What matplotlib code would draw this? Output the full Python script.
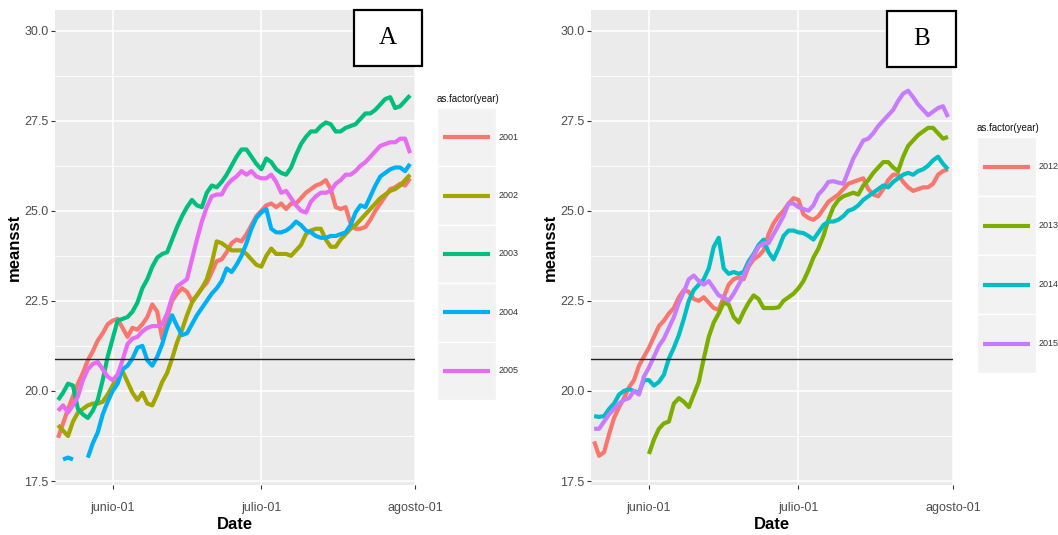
import numpy as np
import pandas as pd
import matplotlib
matplotlib.use("Agg")
import matplotlib.pyplot as plt
from matplotlib.lines import Line2D
from matplotlib.patches import Rectangle

plt.rcParams['font.family'] = ['Liberation Sans', 'DejaVu Sans']

# ---------------- data ----------------
dates = pd.date_range('2000-05-21', '2000-07-31', freq='D')   # 72 days
nan = np.nan

years_a = ['2001', '2002', '2003', '2004', '2005']
colors_a = ['#F8766D', '#A3A500', '#00BF7D', '#00B0F6', '#E76BF3']

sst_2001 = [18.7, 19.1, 19.5, 19.85, 20.2, 20.5, 20.85, 21.1, 21.4, 21.6, 21.85,
            21.95, 22.0, 21.75, 21.5, 21.75, 21.7, 21.85, 22.05, 22.4, 22.2, 21.45,
            22.05, 22.5, 22.7, 22.85, 22.75, 22.5, 22.65, 22.85, 23.0, 23.3, 23.6,
            23.65, 23.85, 24.1, 24.2, 24.15, 24.35, 24.6, 24.85, 25.0, 25.15, 25.2,
            25.1, 25.2, 25.05, 25.2, 25.2, 25.35, 25.5, 25.6, 25.7, 25.75, 25.85,
            25.6, 25.1, 25.05, 25.1, 24.65, 24.5, 24.5, 24.55, 24.75, 25.0, 25.2,
            25.4, 25.6, 25.65, 25.75, 25.7, 25.9]
sst_2002 = [19.05, 18.9, 18.75, 19.15, 19.4, 19.5, 19.6, 19.65, 19.65, 19.7, 19.9,
            20.15, 20.4, 20.55, 20.25, 19.95, 19.75, 19.95, 19.65, 19.6, 19.9, 20.25,
            20.5, 20.9, 21.35, 21.7, 22.1, 22.45, 22.65, 22.85, 23.1, 23.55, 24.15,
            24.1, 24.0, 23.9, 23.9, 23.9, 23.8, 23.65, 23.5, 23.45, 23.75, 23.95,
            23.8, 23.8, 23.8, 23.75, 23.9, 24.05, 24.35, 24.45, 24.5, 24.5, 24.2,
            24.0, 24.0, 24.2, 24.35, 24.5, 24.6, 24.75, 24.9, 25.05, 25.2, 25.35,
            25.45, 25.55, 25.6, 25.7, 25.85, 26.0]
sst_2003 = [19.75, 19.95, 20.2, 20.15, 19.5, 19.35, 19.25, 19.45, 19.75, 20.3, 20.95,
            21.45, 21.95, 22.0, 22.05, 22.2, 22.45, 22.85, 23.1, 23.45, 23.7, 23.8,
            23.85, 24.2, 24.55, 24.85, 25.1, 25.3, 25.15, 25.1, 25.5, 25.7, 25.65,
            25.8, 26.0, 26.25, 26.5, 26.7, 26.7, 26.5, 26.3, 26.15, 26.45, 26.35,
            26.15, 26.05, 26.0, 26.2, 26.55, 26.85, 27.05, 27.2, 27.2, 27.35, 27.45,
            27.4, 27.2, 27.2, 27.3, 27.35, 27.4, 27.55, 27.7, 27.7, 27.8, 27.95,
            28.1, 28.15, 27.85, 27.9, 28.05, 28.2]
sst_2004 = [nan, 18.1, 18.15, 18.1, nan, nan, 18.15, 18.55, 18.85, 19.35, 19.7,
            20.0, 20.2, 20.6, 20.7, 20.9, 21.2, 21.25, 20.85, 20.7, 20.95, 21.3,
            21.75, 22.1, 21.8, 21.55, 21.6, 21.85, 22.1, 22.3, 22.5, 22.7, 22.85,
            23.05, 23.4, 23.3, 23.5, 23.75, 24.1, 24.5, 24.8, 24.95, 25.05, 24.5,
            24.4, 24.4, 24.45, 24.55, 24.7, 24.6, 24.45, 24.4, 24.3, 24.25, 24.25,
            24.3, 24.3, 24.35, 24.4, 24.6, 24.95, 25.15, 25.1, 25.4, 25.7, 25.95,
            26.05, 26.15, 26.2, 26.2, 26.1, 26.3]
sst_2005 = [19.45, 19.6, 19.4, 19.6, 19.85, 20.3, 20.6, 20.75, 20.8, 20.6, 20.4,
            20.3, 20.45, 20.85, 21.3, 21.45, 21.5, 21.65, 21.75, 21.8, 21.8, 21.85,
            22.15, 22.6, 22.9, 23.0, 23.1, 23.65, 24.2, 24.7, 25.1, 25.4, 25.45,
            25.45, 25.7, 25.85, 25.95, 26.1, 26.0, 26.1, 25.95, 25.9, 25.9, 26.0,
            25.8, 25.5, 25.55, 25.35, 25.15, 25.0, 24.95, 25.25, 25.4, 25.5, 25.5,
            25.55, 25.75, 25.85, 26.0, 26.0, 26.1, 26.25, 26.35, 26.5, 26.65, 26.8,
            26.85, 26.9, 26.9, 27.0, 27.0, 26.6]

years_b = ['2012', '2013', '2014', '2015']
colors_b = ['#F8766D', '#7CAE00', '#00BFC4', '#C77CFF']

sst_2012 = [18.6, 18.2, 18.3, 18.8, 19.25, 19.55, 19.8, 20.1, 20.3, 20.7, 20.95,
            21.2, 21.5, 21.8, 21.95, 22.15, 22.3, 22.6, 22.8, 22.75, 22.55, 22.5,
            22.6, 22.45, 22.3, 22.25, 22.6, 22.95, 23.1, 23.15, 23.1, 23.45, 23.65,
            23.75, 23.9, 24.35, 24.65, 24.85, 25.0, 25.2, 25.35, 25.3, 24.9, 24.8,
            24.75, 24.85, 25.05, 25.25, 25.35, 25.45, 25.6, 25.75, 25.8, 25.85, 25.9,
            25.6, 25.45, 25.4, 25.6, 25.85, 26.0, 26.0, 25.8, 25.65, 25.55, 25.6,
            25.65, 25.65, 25.75, 26.0, 26.1, 26.15]
sst_2013 = [nan] * 11 + [
            18.25, 18.65, 18.95, 19.1, 19.15, 19.65, 19.8, 19.7, 19.55, 19.9, 20.25,
            20.9, 21.5, 21.9, 22.15, 22.45, 22.4, 22.05, 21.9, 22.2, 22.45, 22.65,
            22.55, 22.3, 22.3, 22.3, 22.32, 22.5, 22.6, 22.7, 22.85, 23.05, 23.35,
            23.7, 23.95, 24.3, 24.75, 25.1, 25.3, 25.4, 25.45, 25.5, 25.45, 25.7,
            25.85, 26.05, 26.2, 26.35, 26.35, 26.2, 26.1, 26.5, 26.8, 26.95, 27.1,
            27.2, 27.3, 27.3, 27.15, 27.0, 27.05]
sst_2014 = [19.3, 19.28, 19.3, 19.5, 19.65, 19.9, 20.0, 20.05, 20.0, 19.95, 20.3,
            20.3, 20.15, 20.25, 20.45, 20.9, 21.2, 21.55, 22.0, 22.5, 22.8, 22.95,
            23.1, 23.4, 24.0, 24.25, 23.4, 23.25, 23.3, 23.25, 23.3, 23.6, 23.8,
            24.05, 24.2, 23.85, 23.65, 23.95, 24.3, 24.45, 24.45, 24.4, 24.38, 24.3,
            24.2, 24.4, 24.6, 24.7, 24.7, 24.75, 24.85, 25.0, 25.05, 25.15, 25.3,
            25.4, 25.5, 25.6, 25.7, 25.65, 25.8, 25.9, 26.0, 26.05, 26.0, 26.1,
            26.15, 26.25, 26.4, 26.5, 26.3, 26.15]
sst_2015 = [18.95, 18.95, 19.15, 19.35, 19.5, 19.65, 19.75, 19.8, 20.0, 19.9, 20.4,
            20.65, 20.95, 21.25, 21.45, 21.75, 22.05, 22.45, 22.75, 23.1, 23.2, 23.05,
            22.95, 23.05, 22.85, 22.65, 22.6, 22.5, 22.7, 22.95, 23.2, 23.5, 23.75,
            24.0, 24.1, 24.1, 24.35, 24.6, 24.85, 25.2, 25.2, 25.1, 25.05, 25.0,
            25.15, 25.45, 25.6, 25.8, 25.82, 25.78, 25.75, 26.1, 26.45, 26.7, 26.95,
            27.0, 27.15, 27.35, 27.5, 27.65, 27.8, 28.05, 28.25, 28.33, 28.15, 27.95,
            27.8, 27.65, 27.75, 27.85, 27.9, 27.6]

series_a = [sst_2001, sst_2002, sst_2003, sst_2004, sst_2005]
series_b = [sst_2012, sst_2013, sst_2014, sst_2015]

hline_value = 20.9
y_ticks = [17.5, 20.0, 22.5, 25.0, 27.5, 30.0]
y_minor = [18.75, 21.25, 23.75, 26.25, 28.75]
x_tick_dates = pd.to_datetime(['2000-06-01', '2000-07-01', '2000-08-01'])
x_tick_labels = ['junio-01', 'julio-01', 'agosto-01']
legend_title = 'as.factor(year)'

# ---------------- layout ----------------
W, H = 1058, 535
fig = plt.figure(figsize=(W / 100, H / 100), dpi=100)
fig.patch.set_facecolor('white')


def fx(x):
    return x / W


def fy(y):
    return 1 - y / H


def make_panel(left_px, right_px, series, colors):
    ax = fig.add_axes([fx(left_px), fy(485), (right_px - left_px) / W, 475 / H])
    ax.set_facecolor('#EBEBEB')
    for s in ax.spines.values():
        s.set_visible(False)
    for yv in y_minor:
        ax.axhline(yv, color='white', lw=0.6, zorder=0)
    ax.set_yticks(y_ticks)
    ax.set_yticklabels([f'{v:.1f}' for v in y_ticks])
    ax.set_xticks(x_tick_dates)
    ax.set_xticklabels(x_tick_labels)
    ax.grid(True, which='major', color='white', lw=1.1, zorder=0)
    ax.set_axisbelow(True)
    ax.tick_params(axis='both', colors='#333333', length=3, width=0.8,
                   labelsize=9, labelcolor='#4D4D4D')
    ax.tick_params(axis='y', pad=1.5)
    ax.tick_params(axis='x', pad=9.5)
    for vals, c in zip(series, colors):
        ax.plot(dates, vals, color=c, lw=3.0, solid_capstyle='butt', zorder=3)
    ax.axhline(hline_value, color='#222222', lw=1.0, zorder=4)
    ax.set_xlim(pd.Timestamp('2000-05-20 09:00'), pd.Timestamp('2000-08-01'))
    ax.set_ylim(17.39, 30.57)
    ax.set_xlabel('Date', fontsize=12, fontweight='bold', labelpad=2)
    ax.set_ylabel('meansst', fontsize=12, fontweight='bold', labelpad=2)
    return ax


ax_a = make_panel(55, 415, series_a, colors_a)
ax_b = make_panel(591, 953, series_b, colors_b)


def draw_legend(x0, x1, y_title, y_top, key_h, labels, colors):
    fig.text(fx(x0), fy(y_title), legend_title, fontsize=7, color='#111111',
             ha='left', va='center')
    for i, (lab, c) in enumerate(zip(labels, colors)):
        yt = y_top + i * key_h
        fig.add_artist(Rectangle((fx(x0), fy(yt + key_h)), (x1 - x0) / W, key_h / H,
                                 transform=fig.transFigure, facecolor='#F2F2F2',
                                 edgecolor='white', lw=1.0))
        yc = yt + key_h / 2
        fig.add_artist(Line2D([fx(x0 + 6), fx(x1 - 6)], [fy(yc), fy(yc)],
                              transform=fig.transFigure, color=c, lw=3.0,
                              solid_capstyle='butt'))
        fig.text(fx(x1 + 3), fy(yc), lab, fontsize=6.5, color='#333333',
                 ha='left', va='center')


draw_legend(437, 496, 99, 108, 58.4, years_a, colors_a)
draw_legend(977, 1036, 128, 137, 59, years_b, colors_b)


def label_box(x0, x1, y0, y1, text):
    fig.add_artist(Rectangle((fx(x0), fy(y1)), (x1 - x0) / W, (y1 - y0) / H,
                             transform=fig.transFigure, facecolor='white',
                             edgecolor='black', lw=1.6, zorder=10))
    fig.text(fx((x0 + x1) / 2), fy((y0 + y1) / 2), text, fontsize=18,
             family=['Liberation Serif', 'DejaVu Serif'], ha='center',
             va='center', zorder=11)


label_box(354, 422, 10, 66, 'A')
label_box(887, 956, 11, 67, 'B')

fig.savefig('out.png', dpi=100)
